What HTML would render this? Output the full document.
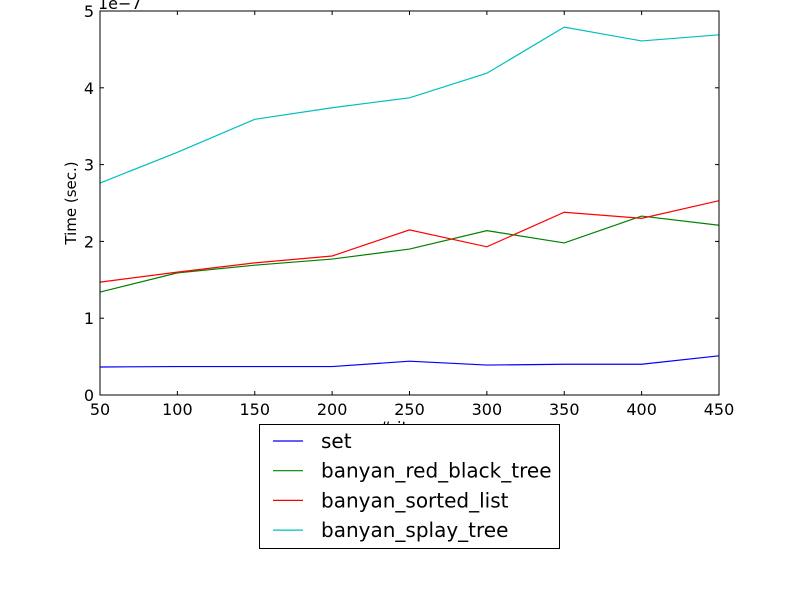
<!DOCTYPE html>
<html><head><meta charset="utf-8"><style>
body{margin:0;background:#fff;}
svg{display:block;font-family:"DejaVu Sans","Liberation Sans",sans-serif;}
</style></head><body>
<svg id="chart" width="800" height="600">
<rect x="0" y="0" width="800" height="600" fill="#fff"/>
<g id="plot"></g>
</svg>
<script>
const categories=[50,100,150,200,250,300,350,400,450];
const setValues=[0.365,0.37,0.37,0.37,0.44,0.39,0.40,0.40,0.51];
const rbtValues=[1.34,1.59,1.69,1.77,1.90,2.14,1.98,2.33,2.21];
const sortedValues=[1.47,1.60,1.72,1.81,2.15,1.93,2.38,2.30,2.53];
const splayValues=[2.76,3.16,3.59,3.74,3.87,4.19,4.79,4.61,4.69];
const xTicks=[50,100,150,200,250,300,350,400,450];
const yTicks=[0,1,2,3,4,5];
const seriesNames=["set","banyan_red_black_tree","banyan_sorted_list","banyan_splay_tree"];
const seriesColors=["#0000ff","#008000","#ff0000","#00bfbf"];
const NS="http://www.w3.org/2000/svg";
const L=100,R=719,T=11,B=395;
const xs=v=>L+(v-50)/400*(R-L);
const ys=v=>B-v/5*(B-T);
const g=document.getElementById('plot');
function mk(t,a,txt){const e=document.createElementNS(NS,t);for(const k in a)e.setAttribute(k,a[k]);if(txt!==undefined)e.textContent=txt;g.appendChild(e);return e;}
const all=[setValues,rbtValues,sortedValues,splayValues];
all.forEach((vals,i)=>{
 const p=mk('polyline',{points:vals.map((v,j)=>xs(categories[j])+','+ys(v)).join(' '),fill:'none',stroke:seriesColors[i],'stroke-width':1.2});
 
 
});
const fr=mk('rect',{x:L,y:T,width:R-L,height:B-T,fill:'none',stroke:'#000','stroke-width':1});


xTicks.forEach(v=>{
 const x=xs(v);
 mk('line',{x1:x,y1:B,x2:x,y2:B-4,stroke:'#000'});
 mk('line',{x1:x,y1:T,x2:x,y2:T+4,stroke:'#000'});
 const t=mk('text',{x:x,y:B+20,'text-anchor':'middle','font-size':16},String(v));
 
 
});
yTicks.forEach(v=>{
 const y=ys(v);
 mk('line',{x1:L,y1:y,x2:L+4,y2:y,stroke:'#000'});
 mk('line',{x1:R,y1:y,x2:R-4,y2:y,stroke:'#000'});
 const t=mk('text',{x:L-6,y:y+6,'text-anchor':'end','font-size':16},String(v));
 
 
});
const off=mk('text',{x:98,y:9,'font-size':16},'1e\u22127');


const yl=mk('text',{x:76,y:203,'text-anchor':'middle','font-size':15,transform:'rotate(-90 76 203)'},'Time (sec.)');


const xl=mk('text',{x:410,y:433,'text-anchor':'middle','font-size':16},'# items');


const lb=mk('rect',{x:259.5,y:424.5,width:300,height:124,fill:'#fff',stroke:'#000'});


seriesNames.forEach((n,i)=>{
 const y=441+i*29.7;
 mk('line',{x1:273,y1:y,x2:303,y2:y,stroke:seriesColors[i],'stroke-width':1.2});
 const t=mk('text',{x:321,y:y+7,'font-size':20},n);
 
 
});
</script>
</body></html>
